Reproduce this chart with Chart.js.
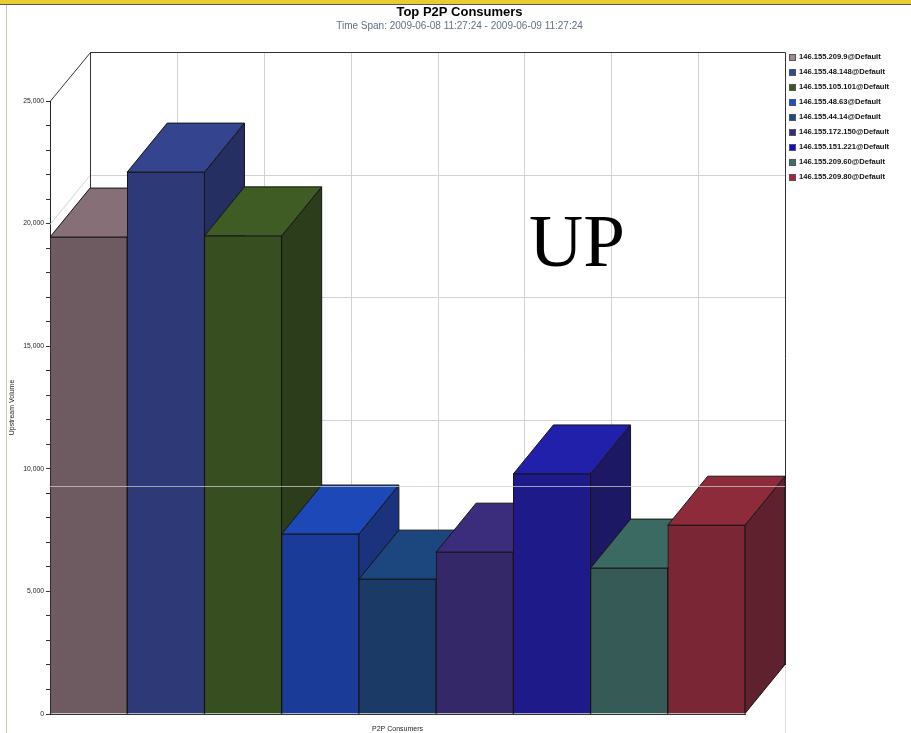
<!DOCTYPE html>
<html>
<head>
<meta charset="utf-8">
<script src="https://cdn.jsdelivr.net/npm/chart.js@4.4.1/dist/chart.umd.min.js"></script>
<style>
    html, body { margin: 0; padding: 0; background: #fff; }
    #wrap { width: 911px; height: 733px; position: relative; }
</style>
</head>
<body>
<div id="wrap"><canvas id="grafico" width="911" height="733"></canvas></div>
<script>
// datos
const consumers = [
    "146.155.209.9@Default",
    "146.155.48.148@Default",
    "146.155.105.101@Default",
    "146.155.48.63@Default",
    "146.155.44.14@Default",
    "146.155.172.150@Default",
    "146.155.151.221@Default",
    "146.155.209.60@Default",
    "146.155.209.80@Default"
];
const upstream = [19450, 22100, 19500, 7340, 5500, 6600, 9790, 5950, 7700];
const yTickLabels = ["0", "5,000", "10,000", "15,000", "20,000", "25,000"];

// colores de cada barra (frente, techo, lado) y del cuadro de la leyenda
const frontColors = ["#6e5b62", "#2e3a78", "#374f20", "#1a3c98", "#1b3a66", "#342868", "#1e1a8a", "#365a56", "#7a2634"];
const topColors = ["#876f77", "#34448e", "#3e5c24", "#1c48b8", "#1c477e", "#3b2d7c", "#2020aa", "#3b6a63", "#8e2b3a"];
const sideColors = ["#5a474e", "#262f62", "#2c3d1c", "#1b337c", "#1a3258", "#2b2258", "#1d1864", "#2e4a47", "#5e212d"];
const legendColors = ["#a08890", "#2a4a9a", "#3a5a16", "#1450e0", "#1a4a8c", "#34288c", "#0a0ad0", "#3a7070", "#b0203a"];

const DX = 40, DY = -49; // profundidad 3D

const efecto3D = {
    id: "efecto3D",
    beforeDraw(chart) {
        const ctx = chart.ctx;
        ctx.save();
        // marco superior amarillo
        ctx.fillStyle = "#e8cc30";
        ctx.fillRect(0, 0, chart.width, 4);
        ctx.fillStyle = "#555";
        ctx.fillRect(0, 4, chart.width, 1);
        ctx.fillStyle = "#c8c4b0";
        ctx.fillRect(6, 5, 1, chart.height - 5);
        ctx.restore();
    },
    beforeDatasetsDraw(chart) {
        const ctx = chart.ctx;
        const a = chart.chartArea;
        const y = chart.scales.y;
        ctx.save();

        // pared del fondo
        const bl = a.left + DX, br = a.right + DX, bt = a.top + DY, bb = a.bottom + DY;
        ctx.lineWidth = 1;
        ctx.strokeStyle = "#d2d2d2";
        for (let i = 1; i < 8; i++) {
            const gx = Math.round(bl + (br - bl) * i / 8) + 0.5;
            ctx.beginPath(); ctx.moveTo(gx, bt); ctx.lineTo(gx, bb); ctx.stroke();
        }
        for (let k = 1; k < yTickLabels.length - 1; k++) {
            const py = Math.round(y.getPixelForValue(k * 5000)) + 0.5;
            ctx.beginPath();
            ctx.moveTo(a.left, py);
            ctx.lineTo(a.left + DX, py + DY);
            ctx.lineTo(br, py + DY);
            ctx.stroke();
        }
        ctx.strokeStyle = "#333";
        ctx.beginPath();
        ctx.moveTo(a.left + 0.5, a.top);
        ctx.lineTo(bl + 0.5, bt + 0.5);
        ctx.lineTo(br + 0.5, bt + 0.5);
        ctx.lineTo(br + 0.5, bb);
        ctx.moveTo(bl + 0.5, bt);
        ctx.lineTo(bl + 0.5, bb);
        ctx.stroke();
        ctx.strokeStyle = "#ddd";
        ctx.beginPath();
        ctx.moveTo(br + 0.5, bb);
        ctx.lineTo(br + 0.5, chart.height);
        ctx.stroke();

        // lados y techos de las barras, de izquierda a derecha
        const meta = chart.getDatasetMeta(0);
        ctx.strokeStyle = "#151515";
        meta.data.forEach((bar, i) => {
            const p = bar.getProps(["x", "y", "base", "width"], true);
            const l = p.x - p.width / 2, r = p.x + p.width / 2;
            ctx.fillStyle = sideColors[i];
            ctx.beginPath();
            ctx.moveTo(r, p.y);
            ctx.lineTo(r + DX, p.y + DY);
            ctx.lineTo(r + DX, p.base + DY);
            ctx.lineTo(r, p.base);
            ctx.closePath();
            ctx.fill(); ctx.stroke();
            ctx.fillStyle = topColors[i];
            ctx.beginPath();
            ctx.moveTo(l, p.y);
            ctx.lineTo(l + DX, p.y + DY);
            ctx.lineTo(r + DX, p.y + DY);
            ctx.lineTo(r, p.y);
            ctx.closePath();
            ctx.fill(); ctx.stroke();
        });
        ctx.restore();
    },
    afterDraw(chart) {
        const ctx = chart.ctx;
        const a = chart.chartArea;
        ctx.save();
        // linea clara que cruza la imagen
        ctx.strokeStyle = "rgba(205,205,205,0.75)";
        ctx.beginPath();
        ctx.moveTo(a.left, 486.5);
        ctx.lineTo(a.right + DX, 486.5);
        ctx.stroke();

        // leyenda
        const lx = a.right + DX + 4;
        ctx.font = "bold 7.6px 'Liberation Sans'";
        ctx.textBaseline = "middle";
        consumers.forEach((c, i) => {
            const cy = 57 + i * 15;
            ctx.fillStyle = legendColors[i];
            ctx.fillRect(lx, cy - 3, 6, 6);
            ctx.strokeStyle = "#555";
            ctx.strokeRect(lx + 0.5, cy - 2.5, 6, 6);
            ctx.fillStyle = "#111";
            ctx.fillText(c, lx + 10, cy);
        });

        // anotacion
        ctx.fillStyle = "#000";
        ctx.font = "75px 'Liberation Serif'";
        ctx.textBaseline = "alphabetic";
        ctx.fillText("UP", 529, 266);
        ctx.restore();
    }
};

new Chart(document.getElementById("grafico"), {
    type: "bar",
    data: {
        labels: consumers,
        datasets: [{
            label: "Upstream Volume",
            data: upstream,
            backgroundColor: frontColors,
            borderColor: "#151515",
            borderWidth: 1,
            barPercentage: 1,
            categoryPercentage: 1
        }]
    },
    options: {
        responsive: false,
        animation: false,
        layout: { padding: { left: 8, right: 0, top: 0, bottom: 0 } },
        plugins: {
            legend: { display: false },
            tooltip: { enabled: false },
            title: {
                display: true,
                text: "Top P2P Consumers",
                color: "#000",
                font: { family: "'Liberation Sans'", size: 13, weight: "bold", lineHeight: 1 },
                padding: { top: 6, bottom: 0 }
            },
            subtitle: {
                display: true,
                text: "Time Span: 2009-06-08 11:27:24 - 2009-06-09 11:27:24",
                color: "#607080",
                font: { family: "'Liberation Sans'", size: 10, lineHeight: 1.2 },
                padding: { top: 1, bottom: 69 }
            }
        },
        scales: {
            x: {
                grid: { display: false },
                border: { display: true, color: "#333" },
                ticks: { display: false },
                title: {
                    display: true,
                    text: "P2P Consumers",
                    color: "#222",
                    font: { family: "'Liberation Sans'", size: 7, lineHeight: 1.2 },
                    padding: 0
                },
                afterFit(scale) { scale.height = 19; }
            },
            y: {
                min: 0,
                max: 25000,
                grid: { drawOnChartArea: false, drawTicks: true, tickLength: 4, color: "#333" },
                border: { display: true, color: "#222" },
                ticks: {
                    stepSize: 1000,
                    autoSkip: false,
                    padding: 2,
                    color: "#222",
                    font: { family: "'Liberation Sans'", size: 6.8 },
                    callback: (v) => v % 5000 === 0 ? yTickLabels[v / 5000] : ""
                },
                title: {
                    display: true,
                    text: "Upstream Volume",
                    color: "#222",
                    font: { family: "'Liberation Sans'", size: 7, lineHeight: 1.2 },
                    padding: 0
                },
                afterFit(scale) { scale.width = 42; }
            },
            espacio: {
                type: "linear",
                position: "right",
                display: true,
                grid: { display: false },
                border: { display: false },
                ticks: { display: false },
                afterFit(scale) { scale.width = 166; }
            }
        }
    },
    plugins: [efecto3D]
});
</script>
</body>
</html>
